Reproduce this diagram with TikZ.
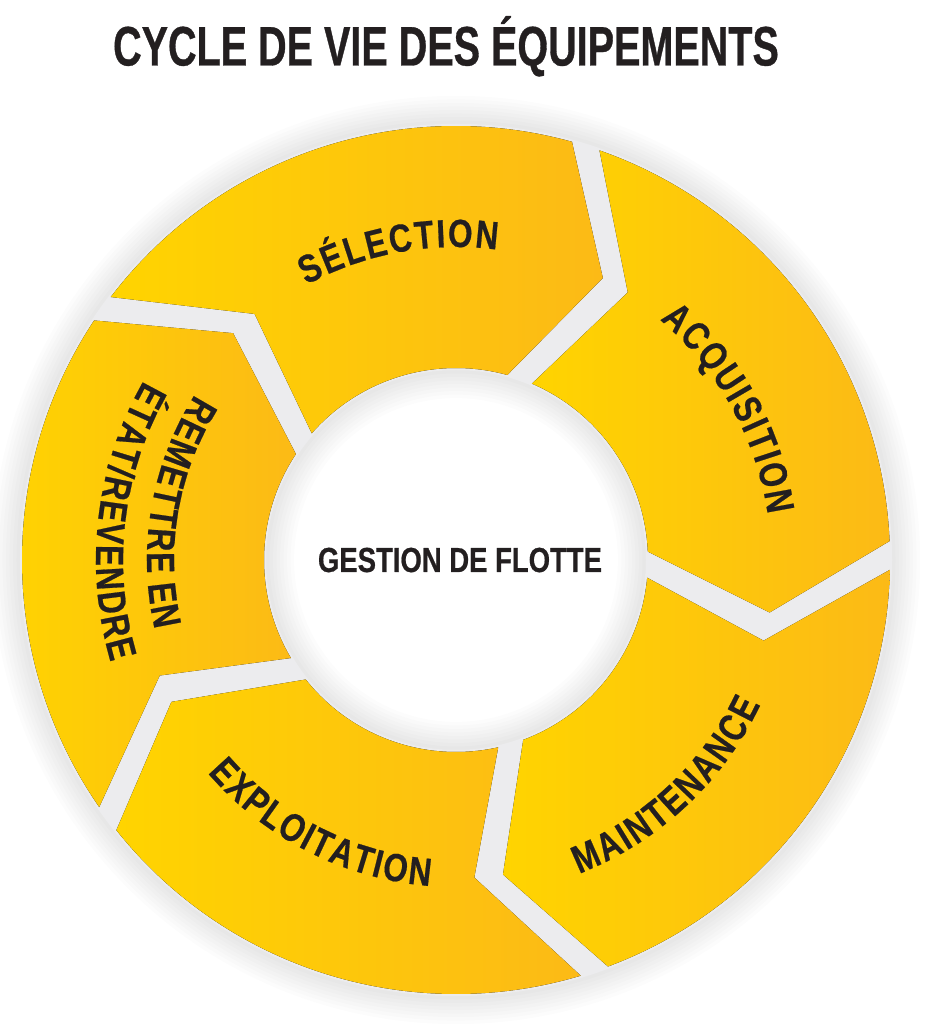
\documentclass[tikz,border=0pt]{standalone}
\usepackage{fontspec}
\usetikzlibrary{decorations.text}
\newfontfamily\titlefont[FakeStretch=0.71,FakeBold=0.6]{Liberation Sans Bold}
\newfontfamily\centerfont[FakeStretch=0.79,FakeBold=0.6]{Liberation Sans Bold}
\newfontfamily\cyclefont[FakeStretch=0.8,FakeBold=0.5]{Liberation Sans Bold}
\newcommand\ls{\kern1.2pt}
\definecolor{ylight}{RGB}{255,212,0}
\definecolor{ydark}{RGB}{252,186,22}
\definecolor{gapgray}{RGB}{236,236,238}
\definecolor{ink}{RGB}{35,31,32}
\tikzset{
  segment/.style={left color=ylight, right color=ydark},
  cyclelabel/.style={decorate, decoration={text along path, text align=center,
    text={|\cyclefont\fontsize{22.4}{26}\selectfont\color{ink}|#1}}},
}
\begin{document}
\begin{tikzpicture}[x=0.02cm, y=0.02cm]
\useasboundingbox (0,0) rectangle (930,1032);
\coordinate (C) at (456,472);
% soft shadow and gaps
\foreach \w in {4,8,...,32}
  \draw[black, opacity=0.01, line width=\w] (C) circle (436) (C) circle (190);
\fill[gapgray, even odd rule] (C) circle (436) (C) circle (190);

\begin{scope}[shift={(C)}]
\foreach \bt in {218.5,146.5,74.5,2.5,-69.5}
  \fill[segment] ({\bt-3.8}:434) arc[start angle={\bt-3.8}, end angle={\bt-72}, radius=434]
    -- ({\bt-84}:318) -- ({\bt-72}:192)
    arc[start angle={\bt-72}, end angle={\bt-7.8}, radius=192]
    -- ({\bt-17.2}:318) -- cycle;

% labels along the ring
\path[cyclelabel={{S\ls}{É\ls}{L\ls}{E\ls}{C\ls}{T\ls}{I\ls}{O\ls}{N}}]
  (135.5:313) arc[start angle=135.5, end angle=65.5, radius=313];
\path[cyclelabel={{A\ls}{C\ls}{Q\ls}{U\ls}{I\ls}{S\ls}{I\ls}{T\ls}{I\ls}{O\ls}{N}}]
  (64:315) arc[start angle=64, end angle=-6, radius=315];
\path[cyclelabel={{M\ls}{A\ls}{I\ls}{N\ls}{T\ls}{E\ls}{N\ls}{A\ls}{N\ls}{C\ls}{E}}]
  (-82:337) arc[start angle=-82, end angle=-12, radius=337];
\path[cyclelabel={{E\ls}{X\ls}{P\ls}{L\ls}{O\ls}{I\ls}{T\ls}{A\ls}{T\ls}{I\ls}{O\ls}{N}}]
  (-152:327) arc[start angle=-152, end angle=-82, radius=327];
\path[cyclelabel={{R\ls}{E\ls}{M\ls}{E\ls}{T\ls}{T\ls}{R\ls}{E\ls}{\kern5pt}{E\ls}{N}}]
  (135.3:309) arc[start angle=135.3, end angle=205.3, radius=309];
\path[cyclelabel={{É\ls}{T\ls}{A\ls}{T\ls}{/\ls}{R\ls}{E\ls}{V\ls}{E\ls}{N\ls}{D\ls}{R\ls}{E}}]
  (138.3:360) arc[start angle=138.3, end angle=208.3, radius=360];
\end{scope}

\node[anchor=base, text=ink, font=\titlefont\fontsize{31.7}{36}\selectfont] (title) at (446,966.5) {CYCLE DE VIE DES ÉQUIPEMENTS};
\node[anchor=base, text=ink, font=\centerfont\fontsize{19.8}{24}\selectfont] (fleet) at (460,460) {GESTION DE FLOTTE};
\end{tikzpicture}
\end{document}
